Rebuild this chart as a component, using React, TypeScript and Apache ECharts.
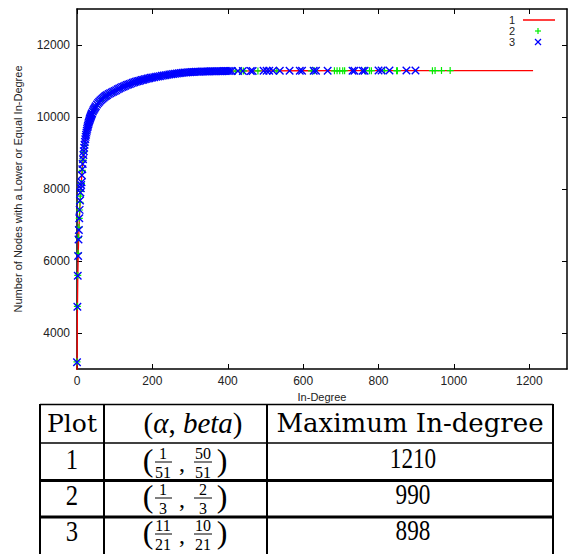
import React, { useEffect, useRef } from 'react';
import * as echarts from 'echarts';

// ---- axis ticks ----
const xTicks = [0, 200, 400, 600, 800, 1000, 1200];
const yTicks = [4000, 6000, 8000, 10000, 12000];

// ---- series 1 (red line) ----
const s1Degree = [0, 1, 2, 3, 4, 5, 6, 8, 10, 15, 20, 30, 40, 50, 70, 100, 150, 200, 250, 300, 400, 500, 600, 700, 800, 900, 1000, 1100, 1210];
const s1Count = [2800, 4500, 5450, 6050, 6500, 6830, 7100, 7560, 7980, 8700, 9230, 9800, 10100, 10300, 10530, 10720, 10955, 11095, 11186, 11246, 11276, 11282, 11285, 11287, 11288, 11289, 11290, 11290, 11290];

// ---- series 2 (green +) ----
const s2Degree = [0, 1, 2, 3, 4, 5, 6, 7, 8, 9, 10, 12, 14, 16, 18, 20, 25, 30, 35, 40, 45, 50, 60, 70, 80, 90, 100, 120, 140, 160, 180, 200, 220, 240, 260, 280, 300, 320, 340, 360, 380, 400, 420, 437, 442, 480, 530, 622, 630, 683, 690, 697, 705, 710, 763, 776, 781, 816, 848, 850, 943, 950, 967, 990];
const s2Count = [3200, 4740, 5600, 6213, 6647, 6936, 7186, 7417, 7630, 7800, 7930, 8150, 8520, 8800, 9030, 9210, 9550, 9790, 9960, 10100, 10210, 10295, 10440, 10530, 10605, 10670, 10715, 10828, 10917, 10988, 11047, 11093, 11133, 11168, 11198, 11226, 11244, 11256, 11263, 11268, 11272, 11275, 11278, 11279, 11279, 11280, 11281, 11282, 11282, 11283, 11283, 11284, 11284, 11285, 11285, 11286, 11286, 11287, 11287, 11288, 11288, 11289, 11289, 11290];

// ---- series 3 (blue x) ----
const s3Degree = [0, 1, 2, 3, 4, 5, 6, 7, 8, 9, 10, 11, 12,
  13, 14, 15, 16, 17, 18, 19, 20, 21, 22, 23, 24, 25, 26, 27, 28, 29, 30, 31, 32, 33, 34, 35, 36, 37, 38, 39, 40,
  42, 44, 46, 48, 50,
  53, 56, 59, 62, 65, 68, 71, 74, 77, 80,
  84, 88, 92, 96, 100,
  104, 108, 112, 116, 120, 124, 128, 132, 136, 140, 144, 148, 152, 156, 160, 164, 168, 172, 176, 180, 184, 188, 192, 196, 200,
  205, 210, 215, 220, 225, 230, 235, 240, 245, 250, 255, 260, 265, 270, 275, 280, 285, 290, 295, 300, 305, 310, 315, 320, 325, 330, 335, 340, 345, 350, 355, 360, 365, 370, 375, 380, 385, 390, 395, 400, 405, 410,
  427, 440, 461, 466, 495, 503, 510, 520, 538, 564, 591, 597, 628, 634, 665, 731, 736, 758, 763, 800, 808, 829, 874, 898];
const s3Count = [3190, 4730, 5590, 6140, 6600, 6860, 7190, 7420, 7680, 7900, 8020, 8110, 8190,
  8382, 8549, 8697, 8827, 8944, 9048, 9143, 9230, 9309, 9381, 9448, 9510, 9566, 9620, 9670, 9716, 9760, 9800, 9839, 9876, 9910, 9942, 9973, 10003, 10031, 10057, 10082, 10107,
  10152, 10193, 10232, 10267, 10300,
  10345, 10386, 10423, 10457, 10488, 10516, 10542, 10567, 10589, 10610,
  10636, 10660, 10682, 10703, 10721,
  10745, 10768, 10790, 10811, 10831, 10850, 10868, 10886, 10903, 10919, 10934, 10949, 10963, 10977, 10990, 11003, 11015, 11027, 11038, 11049, 11059, 11069, 11078, 11087, 11095,
  11105, 11115, 11124, 11135, 11145, 11154, 11162, 11170, 11178, 11186, 11193, 11200, 11208, 11215, 11222, 11228, 11233, 11238, 11242, 11246, 11249, 11252, 11255, 11257, 11259, 11261, 11263, 11264, 11266, 11267, 11268, 11269, 11270, 11271, 11272, 11273, 11274, 11275, 11275, 11276, 11277, 11278,
  11279, 11280, 11281, 11281, 11282, 11282, 11283, 11283, 11284, 11284, 11285, 11285, 11286, 11286, 11287, 11287, 11288, 11288, 11288, 11289, 11289, 11289, 11290, 11290];

const seriesNames = ['1', '2', '3'];

// ---- table ----
const tableHeader = ['Plot', '(α, beta)', 'Maximum In-degree'];
const tablePlots = ['1', '2', '3'];
const alphaNum = ['1', '1', '11'];
const alphaDen = ['51', '3', '21'];
const betaNum = ['50', '2', '10'];
const betaDen = ['51', '3', '21'];
const tableMax = [1210, 990, 898];

const SANS = 'Liberation Sans, Arial, sans-serif';
const SERIF = 'Liberation Serif, Times New Roman, serif';
const DSERIF = 'DejaVu Serif, serif';

function buildGraphic() {
  const g: any[] = [];
  const line = (x1: number, y1: number, x2: number, y2: number, stroke: string, w: number) =>
    g.push({ type: 'line', silent: true, z: 100, shape: { x1, y1, x2, y2 }, style: { stroke, lineWidth: w } });
  const text = (t: string, x: number, y: number, font: any, extra: any = {}) =>
    g.push({ type: 'text', silent: true, z: 100, x, y, ...extra, style: { text: t, align: 'center', verticalAlign: 'middle', fill: '#000', ...font } });

  // legend
  const legY = [20, 31, 42];
  seriesNames.forEach((n, i) => {
    text(n, 515, legY[i], { fontFamily: SANS, fontSize: 11, lineHeight: 10, align: 'right', fill: '#222' });
  });
  line(523, 20, 555, 20, '#ff0000', 1.5);
  line(535, 31, 541, 31, '#00ee00', 1.2);
  line(538, 28, 538, 34, '#00ee00', 1.2);
  line(535, 39, 541, 45, '#0000ff', 1.3);
  line(535, 45, 541, 39, '#0000ff', 1.3);

  // table grid
  line(40, 404.5, 553, 404.5, '#000', 1.5);
  line(40, 443, 553, 443, '#000', 1.5);
  line(40, 480.5, 553, 480.5, '#000', 3);
  line(40, 517, 553, 517, '#000', 3);
  [40, 104, 267, 553].forEach((x) => line(x, 404, x, 554, '#000', 2));

  // header
  text(tableHeader[0], 72, 423, { fontFamily: DSERIF, fontSize: 25 });
  g.push({
    type: 'text', silent: true, z: 100, x: 193, y: 423,
    style: {
      text: '{u|(}{i|α}{u|, }{i|beta}{u|)}', align: 'center', verticalAlign: 'middle', fill: '#000',
      rich: {
        u: { fontFamily: SERIF, fontSize: 29, fontStyle: 'normal' },
        i: { fontFamily: SERIF, fontSize: 29, fontStyle: 'italic' },
      },
    },
  });
  text(tableHeader[2], 410, 423, { fontFamily: DSERIF, fontSize: 26 });

  // rows
  const rowCy = [459, 495, 531];
  tablePlots.forEach((p, i) => {
    const cy = rowCy[i];
    text(p, 72, cy, { fontFamily: SERIF, fontSize: 29, lineHeight: 26 }, { scaleX: 0.85 });
    text(String(tableMax[i]), 413, cy, { fontFamily: SERIF, fontSize: 29, lineHeight: 26 }, { scaleX: 0.8 });
    // fraction expression
    const barY = cy + 3;
    text('(', 148, cy + 1, { fontFamily: SERIF, fontSize: 32, lineHeight: 30 });
    text(alphaNum[i], 163, barY - 9, { fontFamily: SERIF, fontSize: 16, lineHeight: 13 });
    line(155, barY, 172, barY, '#000', 1);
    text(alphaDen[i], 163, barY + 10, { fontFamily: SERIF, fontSize: 16, lineHeight: 13 });
    text(',', 182, cy + 4, { fontFamily: SERIF, fontSize: 24, lineHeight: 14 });
    text(betaNum[i], 203, barY - 9, { fontFamily: SERIF, fontSize: 16, lineHeight: 13 });
    line(194, barY, 212, barY, '#000', 1);
    text(betaDen[i], 203, barY + 10, { fontFamily: SERIF, fontSize: 16, lineHeight: 13 });
    text(')', 222, cy + 1, { fontFamily: SERIF, fontSize: 32, lineHeight: 30 });
  });
  return g;
}

const axisLineStyle = { color: '#000', width: 1.5 };
const plain = (v: number) => String(v);

export default function App() {
  const ref = useRef<HTMLDivElement>(null);
  useEffect(() => {
    const chart = echarts.init(ref.current!, null, { renderer: 'svg' });
    const option: any = {
      animation: false,
      backgroundColor: '#fff',
      grid: { left: 77, top: 9, width: 490, height: 360, containLabel: false },
      xAxis: [
        {
          type: 'value', position: 'bottom', min: 0, max: 1300, interval: 200,
          axisLine: { show: true, onZero: false, lineStyle: axisLineStyle },
          axisTick: { show: true, inside: true, length: 5, lineStyle: { color: '#000' }, customValues: xTicks },
          axisLabel: { show: true, color: '#222', fontSize: 12, fontFamily: SANS, margin: 6, customValues: xTicks, formatter: plain },
          splitLine: { show: false },
          name: 'In-Degree', nameLocation: 'middle', nameGap: 20,
          nameTextStyle: { fontSize: 11, fontFamily: SANS, color: '#222' },
        },
        {
          type: 'value', position: 'top', min: 0, max: 1300, interval: 200,
          axisLine: { show: true, onZero: false, lineStyle: axisLineStyle },
          axisTick: { show: true, inside: true, length: 5, lineStyle: { color: '#000' }, customValues: xTicks },
          axisLabel: { show: false },
          splitLine: { show: false },
        },
      ],
      yAxis: [
        {
          type: 'value', position: 'left', min: 3000, max: 13000, interval: 1000,
          axisLine: { show: true, onZero: false, lineStyle: axisLineStyle },
          axisTick: { show: true, inside: true, length: 5, lineStyle: { color: '#000' }, customValues: yTicks },
          axisLabel: { show: true, color: '#222', fontSize: 12, fontFamily: SANS, margin: 7, customValues: yTicks, formatter: plain },
          splitLine: { show: false },
          name: 'Number of Nodes with a Lower or Equal In-Degree', nameLocation: 'middle', nameGap: 54, nameRotate: 90,
          nameTextStyle: { fontSize: 11, fontFamily: SANS, color: '#222' },
        },
        {
          type: 'value', position: 'right', min: 3000, max: 13000, interval: 1000,
          axisLine: { show: true, onZero: false, lineStyle: axisLineStyle },
          axisTick: { show: true, inside: true, length: 5, lineStyle: { color: '#000' }, customValues: yTicks },
          axisLabel: { show: false },
          splitLine: { show: false },
        },
      ],
      series: [
        {
          name: seriesNames[0], type: 'line', xAxisIndex: 0, yAxisIndex: 0,
          data: s1Degree.map((d, i) => [d, s1Count[i]]),
          symbol: 'none', showSymbol: false, clip: true, silent: true,
          lineStyle: { color: '#ff0000', width: 1.3 }, itemStyle: { color: '#ff0000' }, z: 2,
        },
        {
          name: seriesNames[1], type: 'scatter', xAxisIndex: 0, yAxisIndex: 0,
          data: s2Degree.map((d, i) => [d, s2Count[i]]),
          symbol: 'path://M0,5L10,5M5,0L5,10', symbolSize: 7, silent: true,
          itemStyle: { color: 'transparent', borderColor: '#00ee00', borderWidth: 1.2, opacity: 1 }, z: 3,
        },
        {
          name: seriesNames[2], type: 'scatter', xAxisIndex: 0, yAxisIndex: 0,
          data: s3Degree.map((d, i) => [d, s3Count[i]]),
          symbol: 'path://M0,0L10,10M0,10L10,0', symbolSize: 7.5, silent: true,
          itemStyle: { color: 'transparent', borderColor: '#0000ff', borderWidth: 1.4, opacity: 1 }, z: 4,
        },
      ],
      graphic: buildGraphic(),
    };
    chart.setOption(option);
    return () => chart.dispose();
  }, []);
  return <div ref={ref} style={{ position: 'fixed', left: 0, top: 0, width: 572, height: 554, background: '#fff' }} />;
}
